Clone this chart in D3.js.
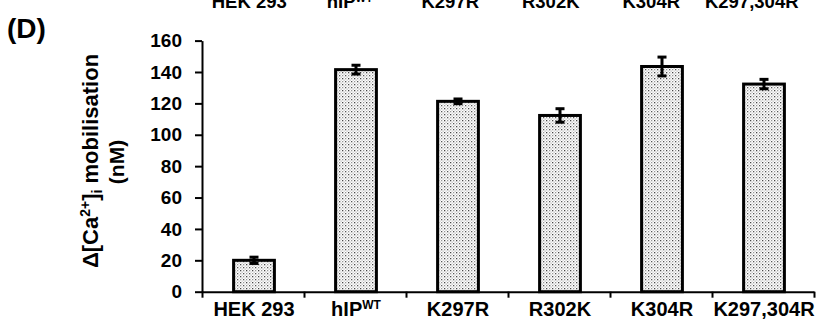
<!DOCTYPE html>
<html>
<head>
<meta charset="utf-8">
<script src="https://cdn.jsdelivr.net/npm/d3@7"></script>
<style>
  body { margin: 0; background: #fff; }
  svg { display: block; font-family: "Liberation Sans", Arial, sans-serif; font-weight: bold; }
</style>
</head>
<body>
<div id="chart"></div>
<script>
// data
const groups = ["HEK 293", "hIP", "K297R", "R302K", "K304R", "K297,304R"];
const supers = ["", "WT", "", "", "", ""];
const means = [20, 141.5, 121.3, 112.3, 143.5, 132.3];
const errs = [2, 2.8, 1.5, 4.3, 6, 3];
const yTicks = [0, 20, 40, 60, 80, 100, 120, 140, 160];

const W = 817, H = 322;
const margin = {top: 40.6, left: 202, right: 3, bottom: 30.3};

const svg = d3.select('#chart').append('svg')
    .attr('width', W).attr('height', H);

// stipple fill for the bars
const defs = svg.append('defs');
const pat = defs.append('pattern').attr('id', 'stip')
    .attr('patternUnits', 'userSpaceOnUse').attr('width', 6).attr('height', 6);
pat.append('rect').attr('width', 6).attr('height', 6).attr('fill', '#fff');
[[0,0,'#444'],[3,3,'#555'],[3,0,'#999'],[0,3,'#999'],[1.5,1.5,'#bbb'],[4.5,4.5,'#bbb'],[4.5,1.5,'#ccc'],[1.5,4.5,'#ccc']].forEach(p => {
    pat.append('rect').attr('x', p[0]).attr('y', p[1]).attr('width', 1.3).attr('height', 1.3).attr('fill', p[2]);
});

const x = d3.scaleBand().domain(groups).range([margin.left, W - margin.right]).padding(0);
const xEdge = d3.scaleLinear().domain([0, groups.length]).range([margin.left, W - margin.right]);
const y = d3.scaleLinear().domain([0, 160]).range([H - margin.bottom, margin.top]);

// cut-off labels from the panel above (clipped in the original too)
const xTop = d3.scaleBand().domain(groups).range([199, 802]);
const topLab = svg.append('g').selectAll('text').data(groups).enter().append('text')
    .attr('x', d => xTop(d) + xTop.bandwidth() / 2)
    .attr('y', 8)
    .attr('text-anchor', 'middle')
    .style('font-size', '18.5px');
topLab.append('tspan').text(d => d);
topLab.append('tspan').text((d, i) => supers[i]).style('font-size', '11px').attr('dy', -6);

// panel letter
svg.append('text').attr('x', 7).attr('y', 38).text('(D)').style('font-size', '28px');

// y axis
const yAxis = svg.append('g').attr('transform', 'translate(' + margin.left + ',0)')
    .call(d3.axisLeft(y).tickValues(yTicks).tickSize(7).tickPadding(13).tickSizeOuter(0));
yAxis.selectAll('text').style('font-size', '19px').attr('fill', '#000');
yAxis.selectAll('line').attr('stroke', '#000').attr('stroke-width', 2);
yAxis.select('.domain').attr('stroke', '#000').attr('stroke-width', 2);

// x axis: boundary ticks + centred labels
const xAxis = svg.append('g').attr('transform', 'translate(0,' + y(0) + ')')
    .call(d3.axisBottom(xEdge).ticks(groups.length).tickFormat('').tickSize(6).tickSizeOuter(0));
xAxis.selectAll('line').attr('stroke', '#000').attr('stroke-width', 2);
xAxis.select('.domain').attr('stroke', '#000').attr('stroke-width', 2);

const xl = svg.append('g').selectAll('text').data(groups).enter().append('text')
    .attr('x', d => x(d) + x.bandwidth() / 2 + 1)
    .attr('y', y(0) + 24)
    .attr('text-anchor', 'middle')
    .style('font-size', '20px');
xl.append('tspan').text(d => d);
xl.append('tspan').text((d, i) => supers[i]).style('font-size', '12px').attr('dy', -7);

// y label
const yl = svg.append('text').attr('transform', 'translate(98,161) rotate(-90)')
    .attr('text-anchor', 'middle').style('font-size', '22px');
yl.append('tspan').text('\u0394[Ca');
yl.append('tspan').text('2+').style('font-size', '14px').attr('dy', -8);
yl.append('tspan').text(']').attr('dy', 8);
yl.append('tspan').text('i').style('font-size', '14px').attr('dy', 4);
yl.append('tspan').text(' mobilisation').attr('dy', -4);
svg.append('text').attr('transform', 'translate(124,162) rotate(-90)')
    .attr('text-anchor', 'middle').style('font-size', '21px').text('(nM)');

// bars
const bw = x.bandwidth() * 0.4;
svg.append('g').selectAll('rect').data(groups).enter().append('rect')
    .attr('x', d => x(d) + x.bandwidth() / 2 - bw / 2 + 1)
    .attr('y', (d, i) => y(means[i]))
    .attr('width', bw)
    .attr('height', (d, i) => y(0) - y(means[i]))
    .attr('fill', 'url(#stip)')
    .attr('stroke', '#000').attr('stroke-width', 3);

// error bars
const eb = svg.append('g').selectAll('g').data(groups).enter().append('g')
    .attr('transform', d => 'translate(' + (x(d) + x.bandwidth() / 2 + 1) + ',0)');
eb.append('line')
    .attr('y1', (d, i) => y(means[i] + errs[i])).attr('y2', (d, i) => y(means[i] - errs[i]))
    .attr('stroke', '#000').attr('stroke-width', 3);
eb.append('line').attr('x1', -4.5).attr('x2', 4.5)
    .attr('y1', (d, i) => y(means[i] + errs[i])).attr('y2', (d, i) => y(means[i] + errs[i]))
    .attr('stroke', '#000').attr('stroke-width', 3);
eb.append('line').attr('x1', -4.5).attr('x2', 4.5)
    .attr('y1', (d, i) => y(means[i] - errs[i])).attr('y2', (d, i) => y(means[i] - errs[i]))
    .attr('stroke', '#000').attr('stroke-width', 3);
</script>
</body>
</html>
